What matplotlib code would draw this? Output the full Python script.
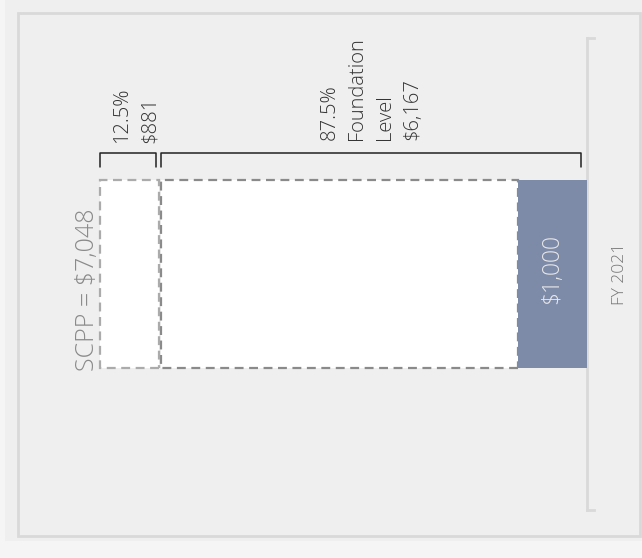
import matplotlib
matplotlib.use("Agg")
import matplotlib.pyplot as plt
from matplotlib.patches import Rectangle

# data
categories = ["FY 2021"]
scpp_total = 7048
share_pct = [12.5, 87.5]
share_amt = [881, 6167]
share_name = ["", "Foundation\nLevel"]
funded = [1000]

plt.rcParams["font.family"] = ["Open Sans", "DejaVu Sans"]

W, H = 642, 558
fig = plt.figure(figsize=(W / 100, H / 100), dpi=100)
fig.patch.set_facecolor("#f5f5f5")

def fx(px):
    return px / W

def fy(py):
    return 1 - py / H

# panel background + border
fig.patches.append(Rectangle((fx(5), fy(541)), fx(637), 541 / H, transform=fig.transFigure,
                             facecolor="#efefef", edgecolor="none", zorder=-2))
fig.patches.append(Rectangle((fx(18), fy(536)), fx(622), 523 / H, transform=fig.transFigure,
                             facecolor="#efefef", edgecolor="#d9d9d9", lw=2, zorder=-1))

ax = fig.add_axes([fx(40), fy(510), fx(547), 472 / H])
ax.set_facecolor("none")

px_per_unit = 487 / scpp_total
ax.set_xlim(547 / px_per_unit, 0)
ax.set_ylim(-0.5, 0.5)

h = 0.4
y = 0
found_amt = share_amt[1]
top_amt = share_amt[0]

# dashed boxes
ax.barh(y, found_amt - funded[0], left=funded[0], height=h, color="white",
        edgecolor="#8a8a8a", linestyle=(0, (4, 2.5)), linewidth=1.6, zorder=2)
ax.barh(y, top_amt - 30, left=found_amt + 30, height=h, color="white",
        edgecolor="#ababab", linestyle=(0, (4, 2.5)), linewidth=1.6, zorder=2)
# funded bar
ax.barh(y, funded[0], left=0, height=h, color="#7e8ba8", edgecolor="none", zorder=3)
ax.text(funded[0] / 2, y + 0.01, f"${funded[0]:,}", rotation=90, ha="center", va="center",
        color="#e8e8e8", fontsize=16.5, fontweight="light", zorder=4)

# SCPP label
ax.text(scpp_total + 180, -0.205, f"SCPP = ${scpp_total:,}", rotation=90,
        ha="center", va="bottom", color="#8a8a8a", fontsize=18, fontweight="light")

# brackets + labels
spans = [(found_amt + 70, scpp_total), (85, found_amt)]
shifts = [-110, 0]
bottoms = [0.278, 0.284]
for (lo, hi), pct, amt, name, dx, yt in zip(spans, share_pct, share_amt, share_name,
                                             shifts, bottoms):
    yb, ye = 0.256, 0.227
    ax.plot([hi, hi, lo, lo], [ye, yb, yb, ye], color="#222222", lw=1.1,
            solid_capstyle="round", clip_on=False, zorder=3)
    lines = [f"{pct}%"] + ([name] if name else []) + [f"${amt:,}"]
    ax.text((lo + hi) / 2 + dx, yt, "\n".join(lines), rotation=90, ha="center", va="bottom",
            multialignment="left", color="#333333", fontsize=14.5, fontweight="light",
            linespacing=1.5)

# axis
for s in ["top", "bottom", "left"]:
    ax.spines[s].set_visible(False)
ax.spines["right"].set_color("#d9d9d9")
ax.spines["right"].set_linewidth(2)
ax.set_xticks([])
ax.yaxis.tick_right()
ax.set_yticks([y])
ax.set_yticklabels(categories, rotation=90, color="#777777", fontsize=12.5,
                   fontweight="light", va="center")
ax.tick_params(axis="y", length=0, pad=18)
for yy in (0, 1):
    ax.plot([1, 1 + 7 / 547], [yy, yy], transform=ax.transAxes, color="#d9d9d9",
            lw=2, clip_on=False)

fig.savefig("out.png", dpi=100, facecolor=fig.get_facecolor())
